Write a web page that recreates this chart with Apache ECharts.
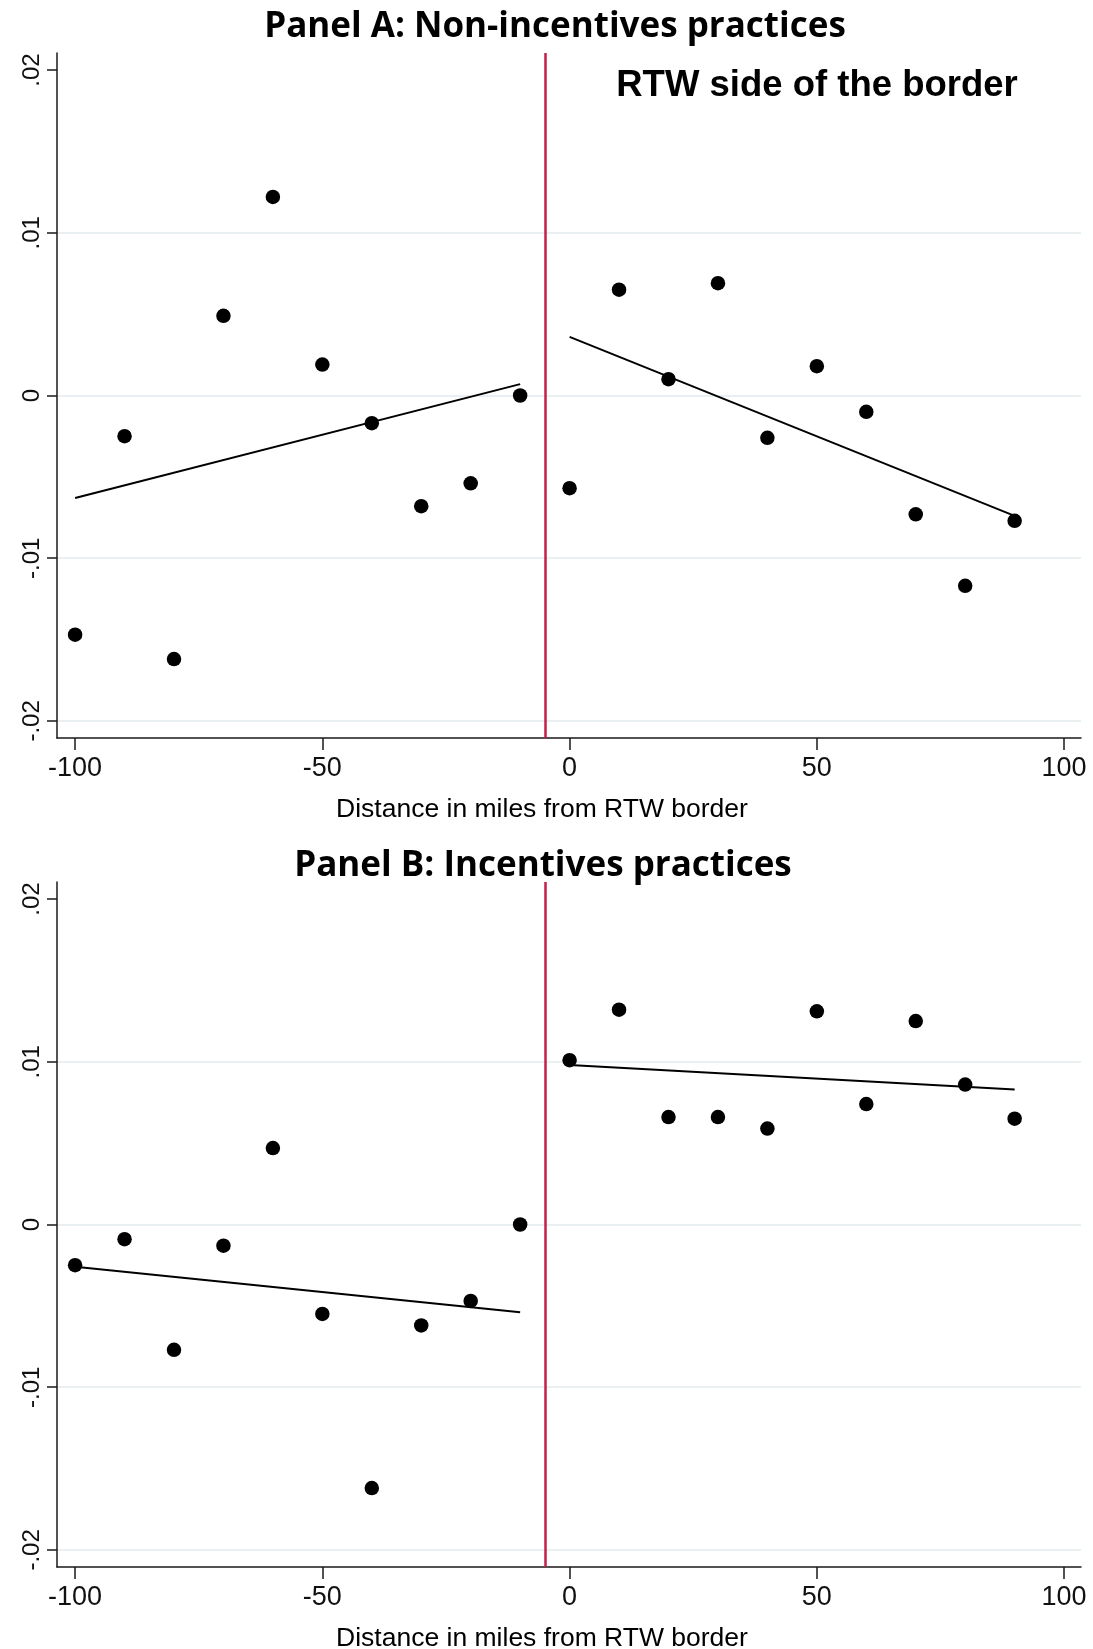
<!DOCTYPE html>
<html><head><meta charset="utf-8">
<script src="https://cdn.jsdelivr.net/npm/echarts@6/dist/echarts.min.js"></script>
<style>html,body{margin:0;padding:0;background:#fff}#c{width:1093px;height:1649px}</style>
</head><body><div id="c"></div>
<script>
// ---- data ----
const xLeft = [-100, -90, -80, -70, -60, -50, -40, -30, -20, -10];
const xRight = [0, 10, 20, 30, 40, 50, 60, 70, 80, 90];

const panelALeft = [-0.0147, -0.0025, -0.0162, 0.0049, 0.0122, 0.0019, -0.0017, -0.0068, -0.0054, 0.0000];
const panelARight = [-0.0057, 0.0065, 0.0010, 0.0069, -0.0026, 0.0018, -0.0010, -0.0073, -0.0117, -0.0077];
const panelBLeft = [-0.0025, -0.0009, -0.0077, -0.0013, 0.0047, -0.0055, -0.0162, -0.0062, -0.0047, 0.0000];
const panelBRight = [0.0101, 0.0132, 0.0066, 0.0066, 0.0059, 0.0131, 0.0074, 0.0125, 0.0086, 0.0065];

const fitLeftX = [-100, -10];
const fitRightX = [0, 90];
const fitALeftY = [-0.0063, 0.0007];
const fitARightY = [0.0036, -0.0074];
const fitBLeftY = [-0.0026, -0.0054];
const fitBRightY = [0.0098, 0.0083];

const cutoff = -5;

const yTicks = [-0.02, -0.01, 0, 0.01, 0.02];
const yTickLabels = ['-.02', '-.01', '0', '.01', '.02'];
const yGridValues = [-0.02, -0.01, 0, 0.01];
const xTicks = [-100, -50, 0, 50, 100];

const titleA = 'Panel A: Non-incentives practices';
const titleB = 'Panel B: Incentives practices';
const sideNote = 'RTW side of the border';
const xTitle = 'Distance in miles from RTW border';

// ---- chart ----
const pairs = (xs, ys) => xs.map((x, i) => [x, ys[i]]);
const AX = '#1a1a1a';
const labelFont = 'Liberation Sans, Arial, sans-serif';

function xAxisDef(gridIndex) {
  return {
    type: 'value', gridIndex, position: 'bottom', min: -103.66, max: 103.42,
    axisLine: { show: true, onZero: false, lineStyle: { color: AX, width: 1.5 } },
    axisTick: { show: true, length: 12, customValues: xTicks, lineStyle: { color: AX, width: 1.5 } },
    axisLabel: { customValues: xTicks, fontSize: 27, fontFamily: labelFont, color: '#111', margin: 17,
      formatter: v => String(v) },
    splitLine: { show: false }
  };
}
function yAxisDef(gridIndex) {
  return {
    type: 'value', gridIndex, min: -0.02105, max: 0.02105,
    axisLine: { show: true, onZero: false, lineStyle: { color: AX, width: 1.5 } },
    axisTick: { show: true, length: 10, customValues: yTicks, lineStyle: { color: AX, width: 1.5 } },
    axisLabel: { customValues: yTicks, rotate: 90, fontSize: 24, fontFamily: labelFont, color: '#111', margin: 13,
      formatter: v => yTickLabels[yTicks.findIndex(t => Math.abs(t - v) < 1e-9)] },
    splitLine: { show: false }
  };
}
const cutLine = {
  silent: true, symbol: 'none', label: { show: false }, z: 2,
  lineStyle: { color: '#c41e4a', width: 2.5, type: 'solid' },
  data: [{ xAxis: cutoff }]
};
function gridLines(axisIdx) {
  return { type: 'line', xAxisIndex: axisIdx, yAxisIndex: axisIdx, data: [], z: 0, silent: true,
    markLine: { silent: true, symbol: 'none', label: { show: false }, animation: false, z: 0,
      lineStyle: { color: '#e3ebed', width: 1.5, type: 'solid' },
      data: yGridValues.map(v => ({ yAxis: v })) } };
}
function scatter(axisIdx, data, mark) {
  const s = { type: 'scatter', xAxisIndex: axisIdx, yAxisIndex: axisIdx, data, symbolSize: 14.5,
    itemStyle: { color: '#000', opacity: 1 }, z: 4 };
  if (mark) s.markLine = cutLine;
  return s;
}
function fit(axisIdx, data) {
  return { type: 'line', xAxisIndex: axisIdx, yAxisIndex: axisIdx, data, symbol: 'none',
    lineStyle: { color: '#000', width: 2 }, z: 3 };
}
function txt(x, y, text, font) {
  return { type: 'text', x, y, style: { text, font, fill: '#000', align: 'center', verticalAlign: 'middle' } };
}

const option = {
  animation: false,
  backgroundColor: '#fff',
  grid: [
    { left: 57, right: 12, top: 53, height: 685 },
    { left: 57, right: 12, top: 882, height: 685 }
  ],
  xAxis: [xAxisDef(0), xAxisDef(1)],
  yAxis: [yAxisDef(0), yAxisDef(1)],
  series: [
    gridLines(0),
    scatter(0, pairs(xLeft, panelALeft), true),
    scatter(0, pairs(xRight, panelARight), false),
    fit(0, pairs(fitLeftX, fitALeftY)),
    fit(0, pairs(fitRightX, fitARightY)),
    gridLines(1),
    scatter(1, pairs(xLeft, panelBLeft), true),
    scatter(1, pairs(xRight, panelBRight), false),
    fit(1, pairs(fitLeftX, fitBLeftY)),
    fit(1, pairs(fitRightX, fitBRightY))
  ],
  graphic: [
    txt(555, 27, titleA, 'bold 35px "Open Sans"'),
    txt(817, 86, sideNote, 'bold 36.5px "Liberation Sans"'),
    txt(542, 810, xTitle, '26.5px "Liberation Sans"'),
    txt(543, 866, titleB, 'bold 35px "Open Sans"'),
    txt(542, 1639, xTitle, '26.5px "Liberation Sans"')
  ]
};
const chart = echarts.init(document.getElementById('c'), null, { renderer: 'canvas' });
chart.setOption(option);
</script>
</body></html>
